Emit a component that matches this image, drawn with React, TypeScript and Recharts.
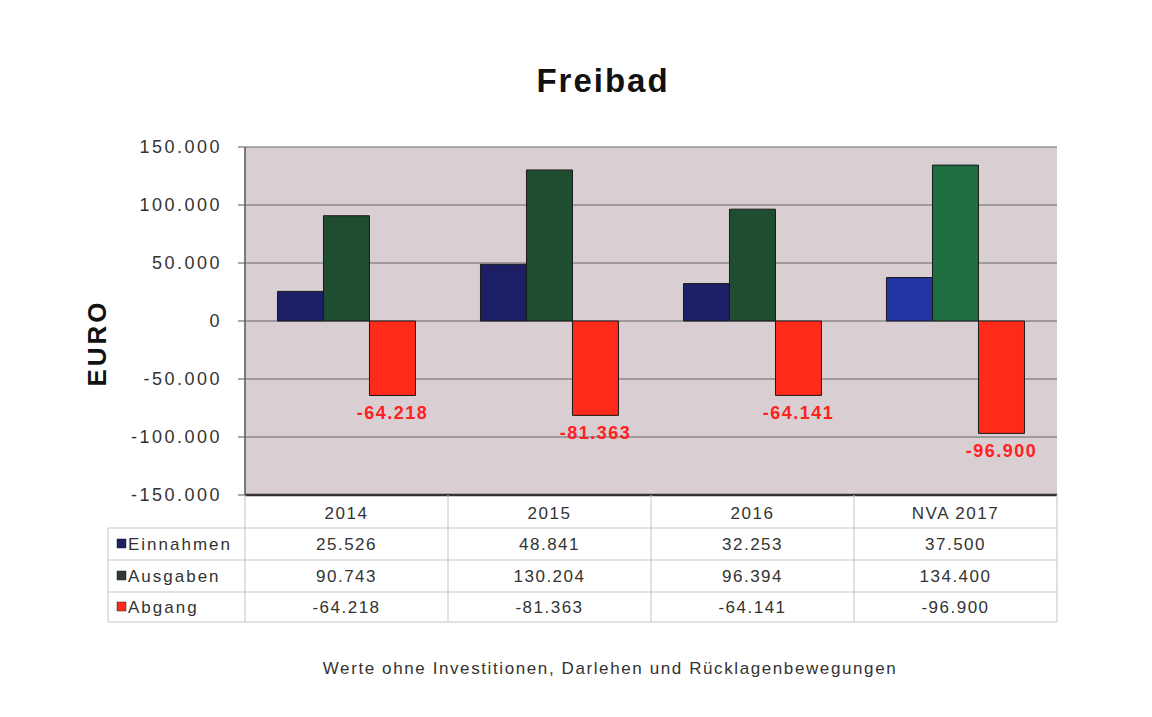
import React from "react";
import {
  BarChart,
  Bar,
  XAxis,
  YAxis,
  CartesianGrid,
  Cell,
  LabelList,
} from "recharts";

const categories = ["2014", "2015", "2016", "NVA 2017"];
const einnahmen = [25526, 48841, 32253, 37500];
const ausgaben = [90743, 130204, 96394, 134400];
const abgang = [-64218, -81363, -64141, -96900];
const seriesNames = ["Einnahmen", "Ausgaben", "Abgang"];
const yTicks = [-150000, -100000, -50000, 0, 50000, 100000, 150000];
const title = "Freibad";
const yTitle = "EURO";
const footnote = "Werte ohne Investitionen, Darlehen und Rücklagenbewegungen";

const FONT = "'Liberation Sans', Arial, sans-serif";
const W = 1152;
const H = 717;
const MARGIN = { top: 147, right: 95, left: 0, bottom: 95 };
const Y_W = 245;
const X_H = 127;
const PLOT_W = W - Y_W - MARGIN.right;
const BAND = PLOT_W / categories.length;
const LABEL_COL = 137;

const NAVY = "#1c1f66";
const NAVY_HI = "#2236a3";
const GREEN = "#1f4d2f";
const GREEN_HI = "#1f6e42";
const RED = "#ff2a1a";
const swatches = [NAVY, "#2f3a31", RED];

const data = categories.map((c, i) => ({
  name: c,
  einnahmen: einnahmen[i],
  ausgaben: ausgaben[i],
  abgang: abgang[i],
}));
const keys = ["einnahmen", "ausgaben", "abgang"] as const;

// german style thousands: 64.218
function fmt(n: number) {
  const s = Math.abs(Math.round(n))
    .toString()
    .replace(/\B(?=(\d{3})+(?!\d))/g, ".");
  return (n < 0 ? "-" : "") + s;
}

// rows of the data table under the plot, relative to axis top
const ROWS = [2, 33, 65, 97, 127];
const LINE = "#c4c4c4";

function TableColumn(props: any) {
  const { x, y, payload, index } = props;
  const left = x - BAND / 2;
  const right = x + BAND / 2;
  const row = data[index];
  return (
    <g fontFamily={FONT} fontSize={17} fill="#333" letterSpacing={1.5}>
      {ROWS.slice(1).map((r) => (
        <line key={r} x1={left} x2={right} y1={y + r} y2={y + r} stroke={LINE} />
      ))}
      <line x1={right} x2={right} y1={y} y2={y + ROWS[4]} stroke={LINE} />
      {index === 0 && (
        <g>
          <line x1={left} x2={left} y1={y} y2={y + ROWS[4]} stroke={LINE} />
          <line
            x1={left - LABEL_COL}
            x2={left - LABEL_COL}
            y1={y + ROWS[1]}
            y2={y + ROWS[4]}
            stroke={LINE}
          />
          {ROWS.slice(1).map((r) => (
            <line
              key={r}
              x1={left - LABEL_COL}
              x2={left}
              y1={y + r}
              y2={y + r}
              stroke={LINE}
            />
          ))}
          {seriesNames.map((s, i) => (
            <g key={s}>
              <rect
                x={left - LABEL_COL + 9}
                y={y + (ROWS[i + 1] + ROWS[i + 2]) / 2 - 5}
                width={9}
                height={9}
                fill={swatches[i]}
                stroke="#222"
                strokeWidth={0.5}
              />
              <text
                x={left - LABEL_COL + 20}
                y={y + (ROWS[i + 1] + ROWS[i + 2]) / 2 + 6}
                textAnchor="start"
                letterSpacing={2}
              >
                {s}
              </text>
            </g>
          ))}
        </g>
      )}
      <text x={x} y={y + 24} textAnchor="middle">
        {payload.value}
      </text>
      {keys.map((k, i) => (
        <text
          key={k}
          x={x}
          y={y + (ROWS[i + 1] + ROWS[i + 2]) / 2 + 6}
          textAnchor="middle"
        >
          {fmt(row[k])}
        </text>
      ))}
    </g>
  );
}

function NegLabel(props: any) {
  const { x, y, width, height, value } = props;
  const bottom = Math.max(y, y + height);
  return (
    <text
      x={x + width / 2}
      y={bottom + 24}
      textAnchor="middle"
      fill="#ff2020"
      fontFamily={FONT}
      fontWeight="bold"
      fontSize={18}
      letterSpacing={1.5}
    >
      {fmt(value)}
    </text>
  );
}

export default function App() {
  return (
    <div
      style={{
        position: "absolute",
        left: 0,
        top: 0,
        width: W,
        height: H,
        background: "#fff",
        fontFamily: FONT,
      }}
    >
      <div
        style={{
          position: "absolute",
          left: 453,
          width: 300,
          top: 62,
          textAlign: "center",
          fontWeight: "bold",
          fontSize: 33,
          letterSpacing: 2,
          color: "#111",
        }}
      >
        {title}
      </div>
      <div
        style={{
          position: "absolute",
          left: 97,
          top: 343,
          transform: "translate(-50%, -50%) rotate(-90deg)",
          fontWeight: "bold",
          fontSize: 26,
          letterSpacing: 3,
          color: "#111",
        }}
      >
        {yTitle}
      </div>
      <div
        style={{
          position: "absolute",
          left: 210,
          width: 800,
          top: 659,
          textAlign: "center",
          fontSize: 17,
          letterSpacing: 1.6,
          color: "#333",
        }}
      >
        {footnote}
      </div>
      <div style={{ position: "absolute", left: 0, top: 0 }}>
        <BarChart
          width={W}
          height={H}
          data={data}
          margin={MARGIN}
          barCategoryGap="16%"
          barGap={0}
        >
          <CartesianGrid vertical={false} stroke="#666" fill="#d9cfd3" />
          <XAxis
            dataKey="name"
            height={X_H}
            tickSize={0}
            tickMargin={0}
            axisLine={{ stroke: "#333", strokeWidth: 2.5 }}
            tick={<TableColumn />}
            interval={0}
          />
          <YAxis
            width={Y_W}
            domain={[-150000, 150000]}
            ticks={yTicks}
            tickFormatter={fmt}
            tickSize={7}
            tickMargin={16}
            tickLine={{ stroke: "#555" }}
            axisLine={{ stroke: "#555", strokeWidth: 1.5 }}
            tick={{ fontSize: 18, fill: "#333", fontFamily: FONT, letterSpacing: 2.5 }}
            allowDataOverflow
          />
          <YAxis
            yAxisId="r"
            orientation="right"
            width={0}
            domain={[-150000, 150000]}
            tick={false}
            tickLine={false}
            axisLine={{ stroke: "#666", strokeWidth: 1.5 }}
          />
          <Bar
            dataKey="einnahmen"
            name={seriesNames[0]}
            stroke="#1a1a1a"
            isAnimationActive={false}
          >
            {data.map((d, i) => (
              <Cell key={d.name} fill={i === 3 ? NAVY_HI : NAVY} />
            ))}
          </Bar>
          <Bar
            dataKey="ausgaben"
            name={seriesNames[1]}
            stroke="#1a1a1a"
            isAnimationActive={false}
          >
            {data.map((d, i) => (
              <Cell key={d.name} fill={i === 3 ? GREEN_HI : GREEN} />
            ))}
          </Bar>
          <Bar
            dataKey="abgang"
            name={seriesNames[2]}
            fill={RED}
            stroke="#1a1a1a"
            isAnimationActive={false}
          >
            <LabelList dataKey="abgang" content={<NegLabel />} />
          </Bar>
        </BarChart>
      </div>
    </div>
  );
}
